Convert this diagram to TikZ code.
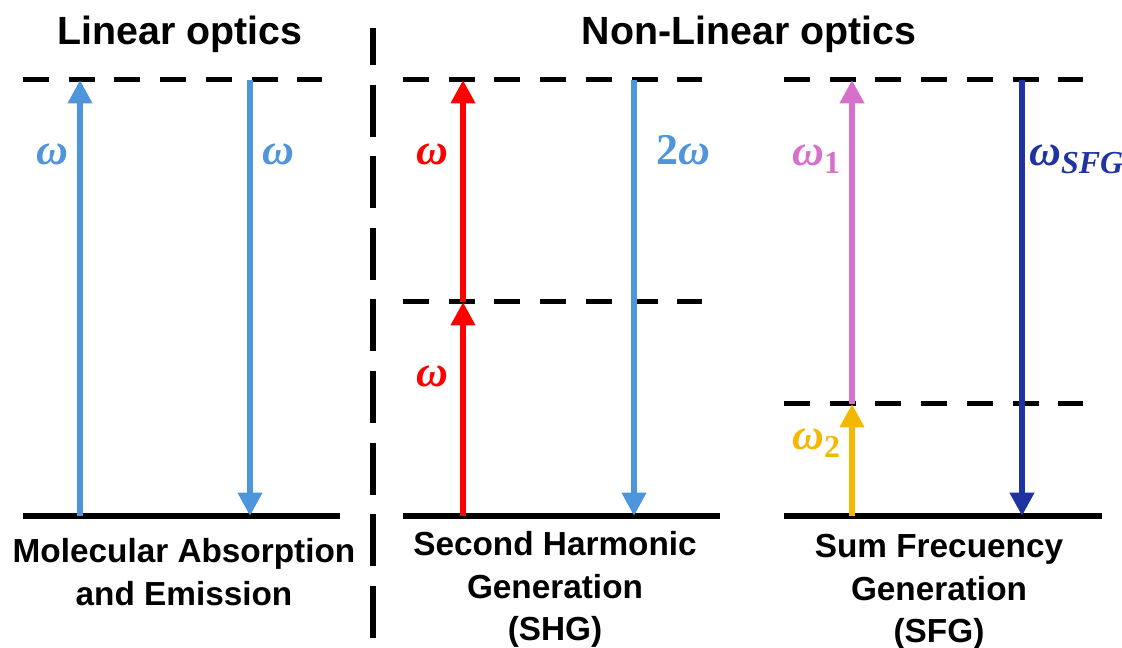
\documentclass[tikz,border=0pt]{standalone}
\usepackage{fontspec}
\setmainfont{Liberation Sans}
\newfontfamily\wfont{Liberation Serif}
\usetikzlibrary{arrows.meta}

\definecolor{lightbeam}{HTML}{4F95DB}
\definecolor{redbeam}{HTML}{FF0000}
\definecolor{pinkbeam}{HTML}{D670CA}
\definecolor{goldbeam}{HTML}{F5B800}
\definecolor{navybeam}{HTML}{1F34A0}

% frequency label with a lowered subscript
\newcommand{\freq}[1]{\itshape ω\raisebox{-6pt}{\fontsize{24}{28}\selectfont #1}}

\begin{document}
\begin{tikzpicture}[x=0.75pt, y=-0.75pt, every node/.style={align=center, inner sep=0pt}, >={Triangle[width=17.5pt,length=17.5pt]},
  level/.style={line width=4.5pt},
  virtual/.style={line width=3.75pt, dash pattern=on 19.5pt off 14.8pt},
  photon/.style={->, line width=4.5pt},
  omega/.style={font=\wfont\bfseries\fontsize{33}{36}\selectfont, anchor=base},
  title/.style={font=\fontsize{29.5}{34}\selectfont\bfseries, anchor=base},
  caption/.style={font=\fontsize{25}{32}\selectfont\bfseries, anchor=north}]
\useasboundingbox (0,0) rectangle (1122,648);

% separator
\draw[line width=4.5pt, dash pattern=on 39pt off 14.7pt, dash phase=11.25pt] (373,28) -- (373,640);

\node[title] (lin) at (180,45) {Linear optics};
\node[title] (nonlin) at (749,45) {Non-Linear optics};

% energy levels
\draw[virtual] (23,80) -- (322,80);
\draw[level] (23,516) -- (340,516);
\draw[virtual] (403,80) -- (702,80);
\draw[virtual] (403,302) -- (702,302);
\draw[level] (403,516) -- (720,516);
\draw[virtual] (784,80) -- (1083,80);
\draw[virtual] (784,404) -- (1083,404);
\draw[level] (784,516) -- (1102,516);

% linear optics
\coordinate (ab0) at (80,516);
\coordinate (ab1) at (80,80);
\coordinate (em1) at (250,80);
\coordinate (em0) at (250,516);
\draw[photon, lightbeam] (ab0) -- (ab1);
\draw[photon, lightbeam] (em1) -- (em0);
\node[omega, text=lightbeam] (wab) at (52,165) {\itshape ω};
\node[omega, text=lightbeam] (wem) at (278,165) {\itshape ω};

% SHG
\coordinate (shg0) at (463,516);
\coordinate (shg1) at (463,302);
\coordinate (shg2) at (463,80);
\coordinate (sh1) at (634,80);
\coordinate (sh0) at (634,516);
\draw[photon, redbeam] (shg0) -- (shg1);
\draw[photon, redbeam] (shg1) -- (shg2);
\draw[photon, lightbeam] (sh1) -- (sh0);
\node[omega, text=redbeam] (wup) at (432,165) {\itshape ω};
\node[omega, text=redbeam] (wlow) at (432,387) {\itshape ω};
\node[omega, text=lightbeam] (w2) at (683,165) {2\itshape ω};

% SFG
\coordinate (sfg0) at (852,516);
\coordinate (sfg1) at (852,404);
\coordinate (sfg2) at (852,80);
\coordinate (sf1) at (1022,80);
\coordinate (sf0) at (1022,516);
\draw[photon, goldbeam] (sfg0) -- (sfg1);
\draw[photon, pinkbeam] (sfg1) -- (sfg2);
\draw[photon, navybeam] (sf1) -- (sf0);
\node[omega, anchor=base west, text=pinkbeam] (wone) at (792,166) {\freq{\upshape 1}};
\node[omega, anchor=base west, text=goldbeam] (wtwo) at (792,450) {\freq{\upshape 2}};
\node[omega, anchor=base west, text=navybeam] (wsfg) at (1029,166) {\freq{SFG}};

\node[caption] (mol) at (184,538) {Molecular Absorption\\and Emission};
\node[caption] (shg) at (555,531) {Second Harmonic\\Generation\\(SHG)};
\node[caption] (sfg) at (939,534) {Sum Frecuency\\Generation\\(SFG)};
\end{tikzpicture}
\end{document}
